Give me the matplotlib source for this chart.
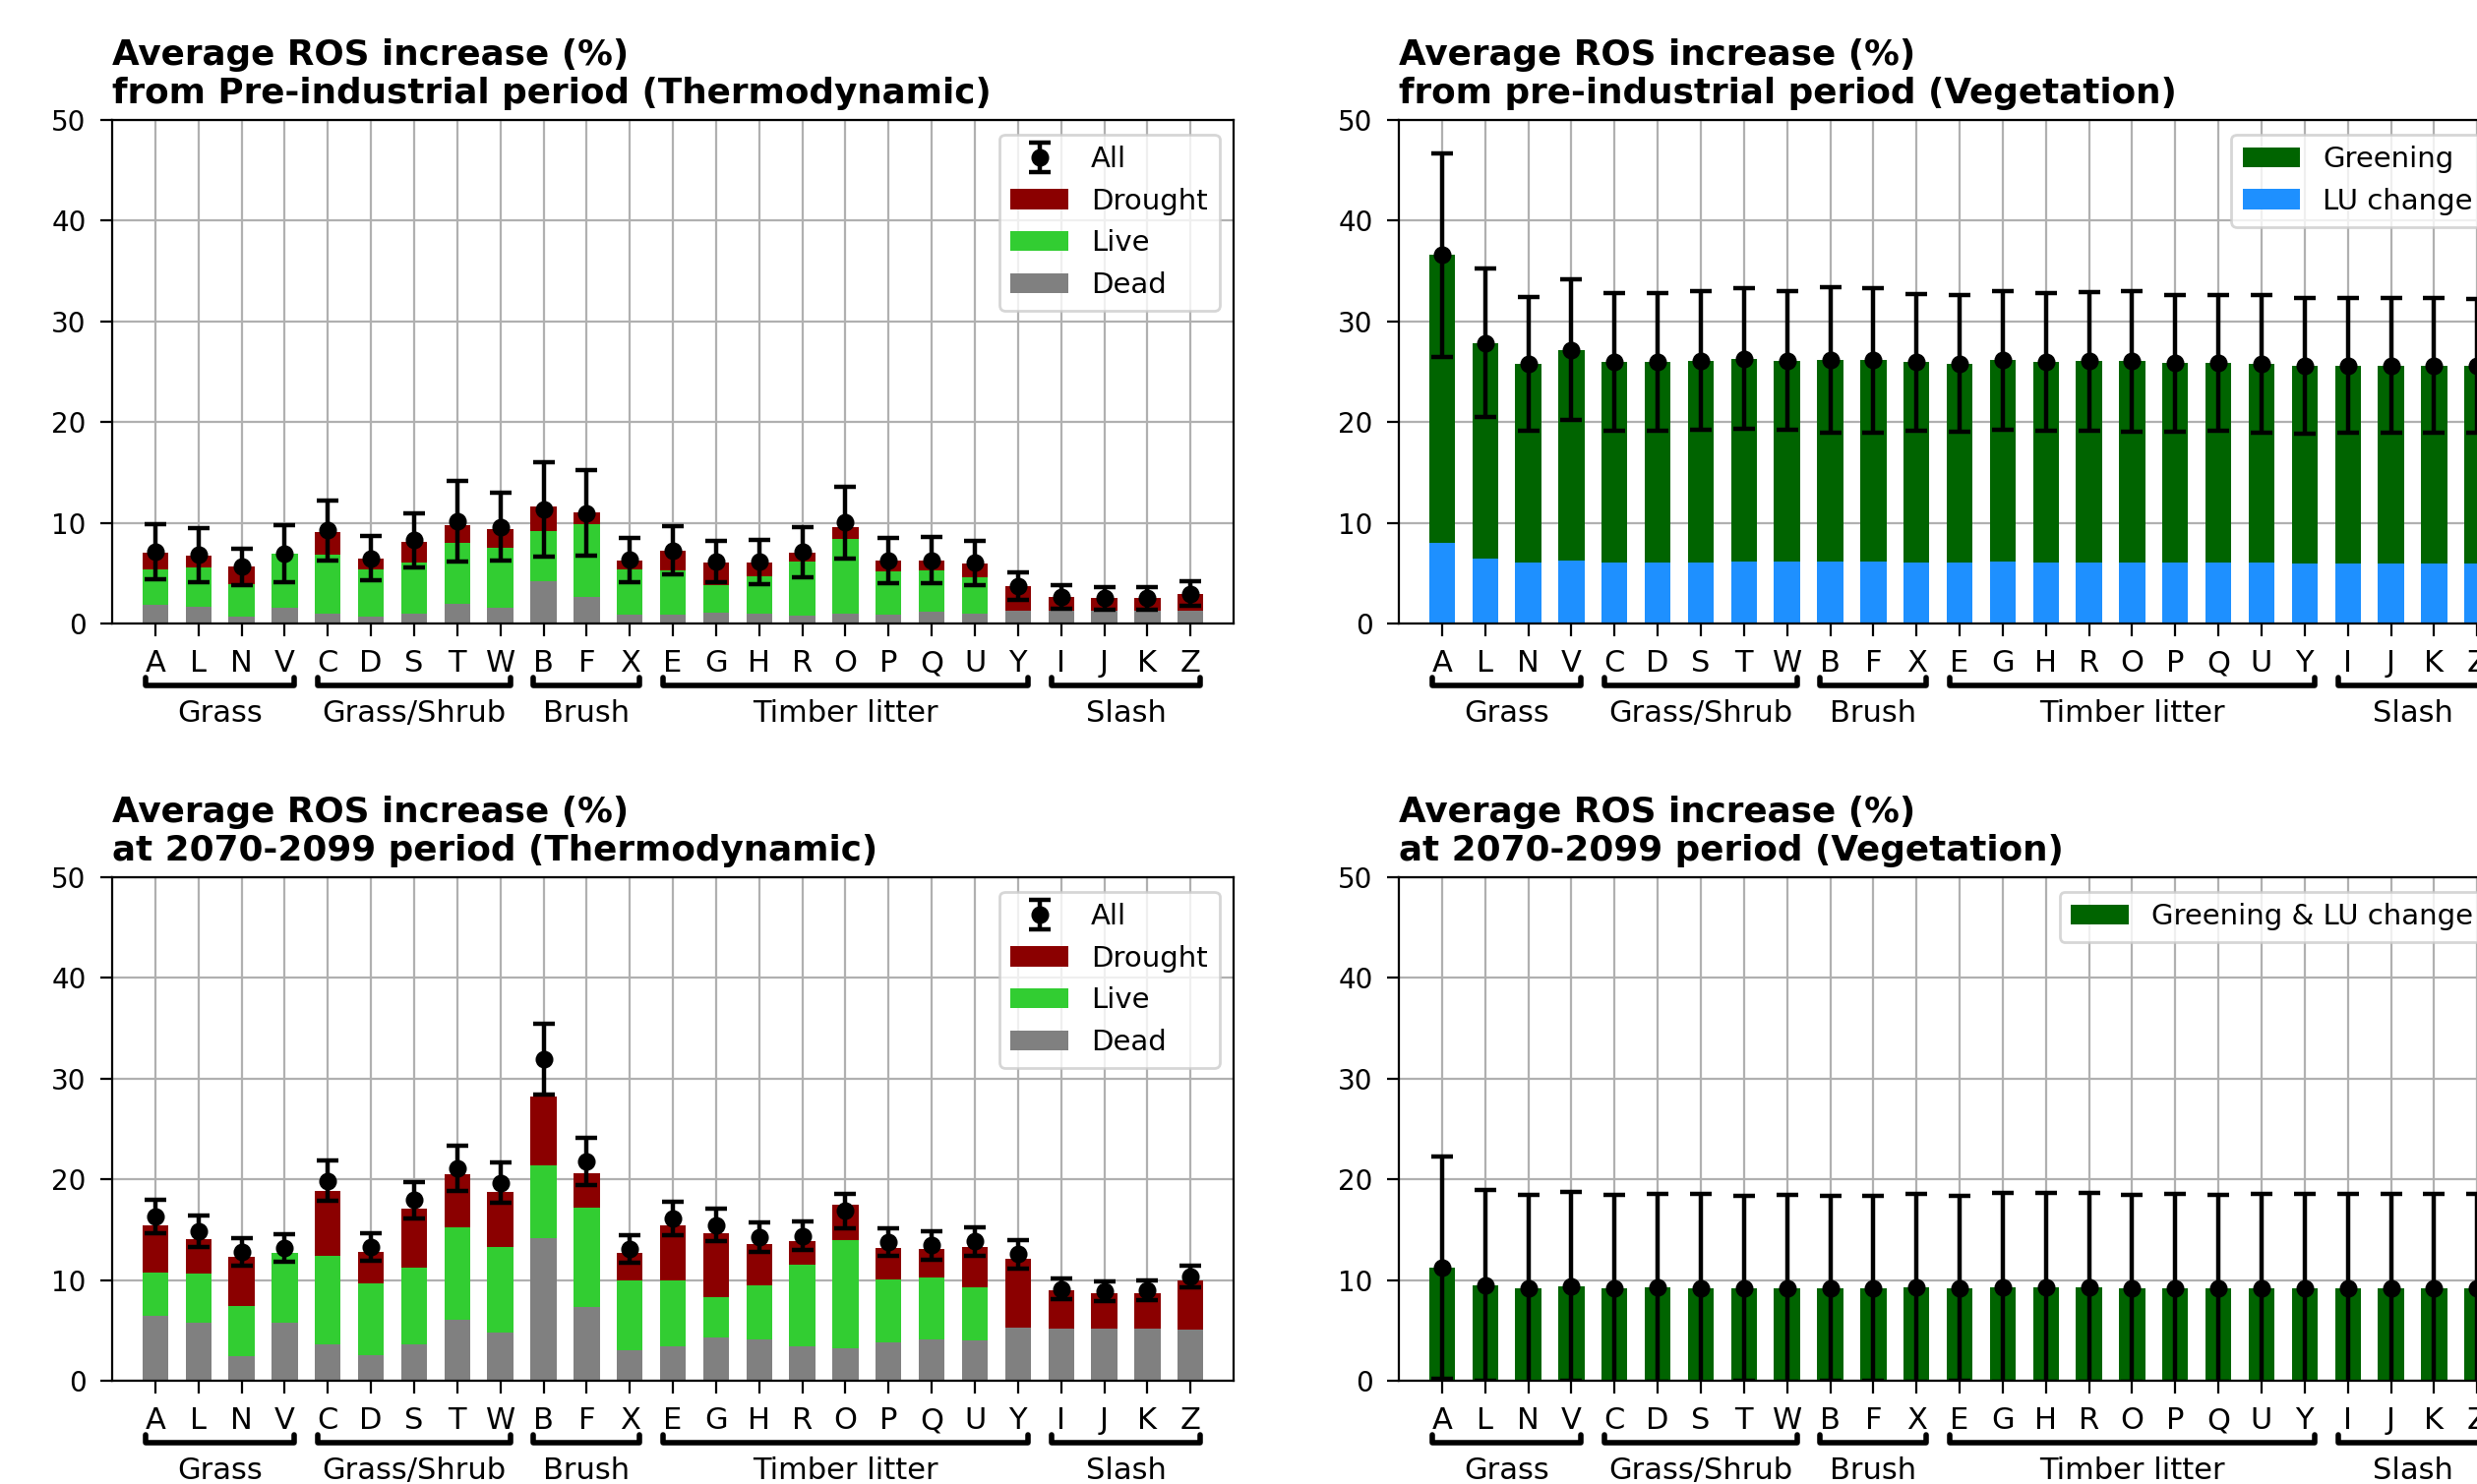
import matplotlib
matplotlib.use("Agg")
import matplotlib.pyplot as plt
import numpy as np

categories = ['A', 'L', 'N', 'V', 'C', 'D', 'S', 'T', 'W', 'B', 'F', 'X',
              'E', 'G', 'H', 'R', 'O', 'P', 'Q', 'U', 'Y', 'I', 'J', 'K', 'Z']
groups = [('Grass', 0, 3), ('Grass/Shrub', 4, 8), ('Brush', 9, 11),
          ('Timber litter', 12, 20), ('Slash', 21, 24)]

# Top-left: from pre-industrial period (Thermodynamic)
pi_dead = [1.86, 1.69, 0.65, 1.60, 0.98, 0.68, 0.94, 1.92, 1.60, 4.20, 2.67, 0.85,
           0.90, 1.05, 0.98, 0.82, 0.98, 0.92, 1.14, 1.01, 1.24, 1.24, 1.24, 1.24, 1.24]
pi_live = [3.51, 3.88, 3.29, 5.34, 5.89, 4.69, 5.15, 6.06, 5.89, 5.02, 7.17, 4.49,
           4.38, 2.77, 3.69, 5.36, 7.42, 4.24, 4.12, 3.57, 0.0, 0.0, 0.0, 0.0, 0.0]
pi_drought = [1.67, 1.17, 1.70, 0.0, 2.22, 1.08, 2.05, 1.76, 1.86, 2.38, 1.20, 0.91,
              1.93, 2.19, 1.38, 0.88, 1.21, 1.05, 0.95, 1.37, 2.45, 1.37, 1.28, 1.28, 1.73]
pi_all = [7.13, 6.80, 5.64, 6.94, 9.25, 6.48, 8.27, 10.16, 9.60, 11.30, 10.98, 6.32,
          7.24, 6.14, 6.14, 7.09, 10.03, 6.27, 6.27, 6.01, 3.69, 2.61, 2.52, 2.52, 2.97]
pi_err = [2.75, 2.68, 1.82, 2.87, 3.00, 2.20, 2.69, 3.99, 3.39, 4.68, 4.23, 2.17,
          2.40, 2.05, 2.19, 2.50, 3.57, 2.24, 2.29, 2.16, 1.36, 1.15, 1.11, 1.13, 1.21]

# Bottom-left: at 2070-2099 period (Thermodynamic)
fu_dead = [6.45, 5.77, 2.41, 5.77, 3.62, 2.54, 3.62, 6.03, 4.82, 14.17, 7.33, 3.03,
           3.42, 4.33, 4.07, 3.42, 3.26, 3.81, 4.07, 3.97, 5.28, 5.18, 5.18, 5.18, 5.08]
fu_live = [4.33, 4.91, 5.05, 6.97, 8.82, 7.10, 7.62, 9.21, 8.44, 7.23, 9.84, 6.90,
           6.58, 3.98, 5.38, 8.08, 10.74, 6.22, 6.19, 5.35, 0.0, 0.0, 0.0, 0.0, 0.0]
fu_drought = [4.66, 3.42, 4.89, 0.0, 6.45, 3.16, 5.86, 5.22, 5.47, 6.84, 3.45, 2.77,
              5.47, 6.38, 4.17, 2.41, 3.52, 3.19, 2.83, 3.97, 6.87, 3.78, 3.52, 3.55, 4.89]
fu_all = [16.29, 14.85, 12.80, 13.19, 19.87, 13.29, 17.95, 21.10, 19.64, 31.92, 21.76, 13.09,
          16.16, 15.47, 14.23, 14.40, 16.87, 13.78, 13.45, 13.84, 12.57, 9.12, 8.89, 8.96, 10.36]
fu_err = [1.65, 1.55, 1.39, 1.40, 2.04, 1.35, 1.82, 2.25, 2.00, 3.49, 2.32, 1.34,
          1.66, 1.63, 1.45, 1.44, 1.71, 1.35, 1.42, 1.40, 1.40, 1.03, 0.96, 0.98, 1.10]

# Top-right: from pre-industrial period (Vegetation)
veg_lu = [8.01, 6.41, 6.08, 6.29, 6.08, 6.04, 6.08, 6.17, 6.12, 6.12, 6.12, 6.08,
          6.04, 6.12, 6.08, 6.08, 6.04, 6.04, 6.04, 6.04, 6.00, 6.00, 6.00, 6.00, 6.00]
veg_green = [28.57, 21.46, 19.69, 20.88, 19.90, 19.90, 20.02, 20.13, 19.98, 20.02, 20.02, 19.86,
             19.77, 20.02, 19.90, 19.98, 20.02, 19.81, 19.86, 19.73, 19.57, 19.60, 19.60, 19.60, 19.57]
veg_err = [10.11, 7.36, 6.66, 6.99, 6.84, 6.83, 6.88, 6.99, 6.88, 7.24, 7.15, 6.78,
           6.77, 6.87, 6.85, 6.88, 6.99, 6.81, 6.76, 6.81, 6.72, 6.70, 6.70, 6.70, 6.67]

# Bottom-right: at 2070-2099 period (Vegetation)
vegf_val = [11.22, 9.45, 9.17, 9.37, 9.17, 9.25, 9.21, 9.17, 9.17, 9.17, 9.17, 9.25,
            9.17, 9.29, 9.25, 9.25, 9.17, 9.21, 9.17, 9.17, 9.17, 9.17, 9.17, 9.17, 9.17]
vegf_err = [11.00, 9.45, 9.33, 9.37, 9.33, 9.33, 9.37, 9.20, 9.24, 9.20, 9.20, 9.33,
            9.20, 9.41, 9.37, 9.37, 9.28, 9.33, 9.28, 9.37, 9.37, 9.37, 9.37, 9.37, 9.37]

C_DROUGHT = '#8b0000'
C_LIVE = '#32cd32'
C_DEAD = '#808080'
C_GREEN = '#006400'
C_LU = '#1e90ff'

W, H = 2518, 1509
fig = plt.figure(figsize=(W / 200, H / 200), dpi=200)

sp = 43.85
lx0, lw_ = 114 / W, 26 * sp / W
rx0, rw_ = 1422 / W, 25.5 * sp / W
ty0, ah = (H - 634) / H, 512 / H
by0 = (H - 1404) / H

ax_tl = fig.add_axes([lx0, ty0, lw_, ah])
ax_bl = fig.add_axes([lx0, by0, lw_, ah])
ax_tr = fig.add_axes([rx0, ty0, rw_, ah])
ax_br = fig.add_axes([rx0, by0, rw_, ah])

x = np.arange(len(categories))
BW = 0.6
eb_kw = dict(fmt='o', color='black', ecolor='black', elinewidth=1.6, capsize=4,
             capthick=1.6, markersize=5.5, zorder=5)
LEG_FS = 10.5
TITLE_FS = 12.9


def style(ax, xmax):
    ax.set_axisbelow(True)
    ax.grid(True, color='#b0b0b0', linewidth=0.8)
    ax.set_ylim(0, 50)
    ax.set_yticks([0, 10, 20, 30, 40, 50])
    ax.set_xlim(-1, xmax)
    ax.set_xticks(x)
    ax.set_xticklabels(categories, fontsize=11)
    ax.tick_params(axis='y', labelsize=10, length=4.5, pad=5)
    ax.tick_params(axis='x', length=4.5, pad=5)
    trans = ax.get_xaxis_transform()
    for name, i0, i1 in groups:
        a, b = i0 - 0.23, i1 + 0.23
        ax.plot([a, a, b, b], [-0.108, -0.1225, -0.1225, -0.108], transform=trans,
                clip_on=False, color='black', lw=2.0, solid_capstyle='round',
                solid_joinstyle='round')
        ax.text((i0 + i1) / 2, -0.178, name, transform=trans, ha='center',
                va='center', fontsize=11)


def thermo(ax, dead, live, drought, allv, err, title):
    dead = np.array(dead); live = np.array(live); drought = np.array(drought)
    b1 = ax.bar(x, dead, BW, color=C_DEAD, label='Dead')
    b2 = ax.bar(x, live, BW, bottom=dead, color=C_LIVE, label='Live')
    b3 = ax.bar(x, drought, BW, bottom=dead + live, color=C_DROUGHT, label='Drought')
    e = ax.errorbar(x, allv, yerr=err, label='All', **eb_kw)
    style(ax, 25)
    ax.legend([e, b3, b2, b1], ['All', 'Drought', 'Live', 'Dead'],
              loc='upper right', fontsize=LEG_FS)
    ax.set_title(title, loc='left', fontsize=TITLE_FS, fontweight='bold')


thermo(ax_tl, pi_dead, pi_live, pi_drought, pi_all, pi_err,
       'Average ROS increase (%)\nfrom Pre-industrial period (Thermodynamic)')
thermo(ax_bl, fu_dead, fu_live, fu_drought, fu_all, fu_err,
       'Average ROS increase (%)\nat 2070-2099 period (Thermodynamic)')

# Top-right
lu = np.array(veg_lu); gr = np.array(veg_green)
ax_tr.bar(x, lu, BW, color=C_LU, label='LU change')
ax_tr.bar(x, gr, BW, bottom=lu, color=C_GREEN, label='Greening')
ax_tr.errorbar(x, lu + gr, yerr=veg_err, **eb_kw)
style(ax_tr, 24.5)
h, l = ax_tr.get_legend_handles_labels()
ax_tr.legend([h[l.index('Greening')], h[l.index('LU change')]], ['Greening', 'LU change'],
             loc='upper right', fontsize=LEG_FS)
ax_tr.set_title('Average ROS increase (%)\nfrom pre-industrial period (Vegetation)',
                loc='left', fontsize=TITLE_FS, fontweight='bold')

# Bottom-right
ax_br.bar(x, vegf_val, BW, color=C_GREEN, label='Greening & LU change')
ax_br.errorbar(x, vegf_val, yerr=vegf_err, **eb_kw)
style(ax_br, 24.5)
ax_br.legend(loc='upper right', fontsize=LEG_FS)
ax_br.set_title('Average ROS increase (%)\nat 2070-2099 period (Vegetation)',
                loc='left', fontsize=TITLE_FS, fontweight='bold')

fig.savefig('out.png', dpi=200)
